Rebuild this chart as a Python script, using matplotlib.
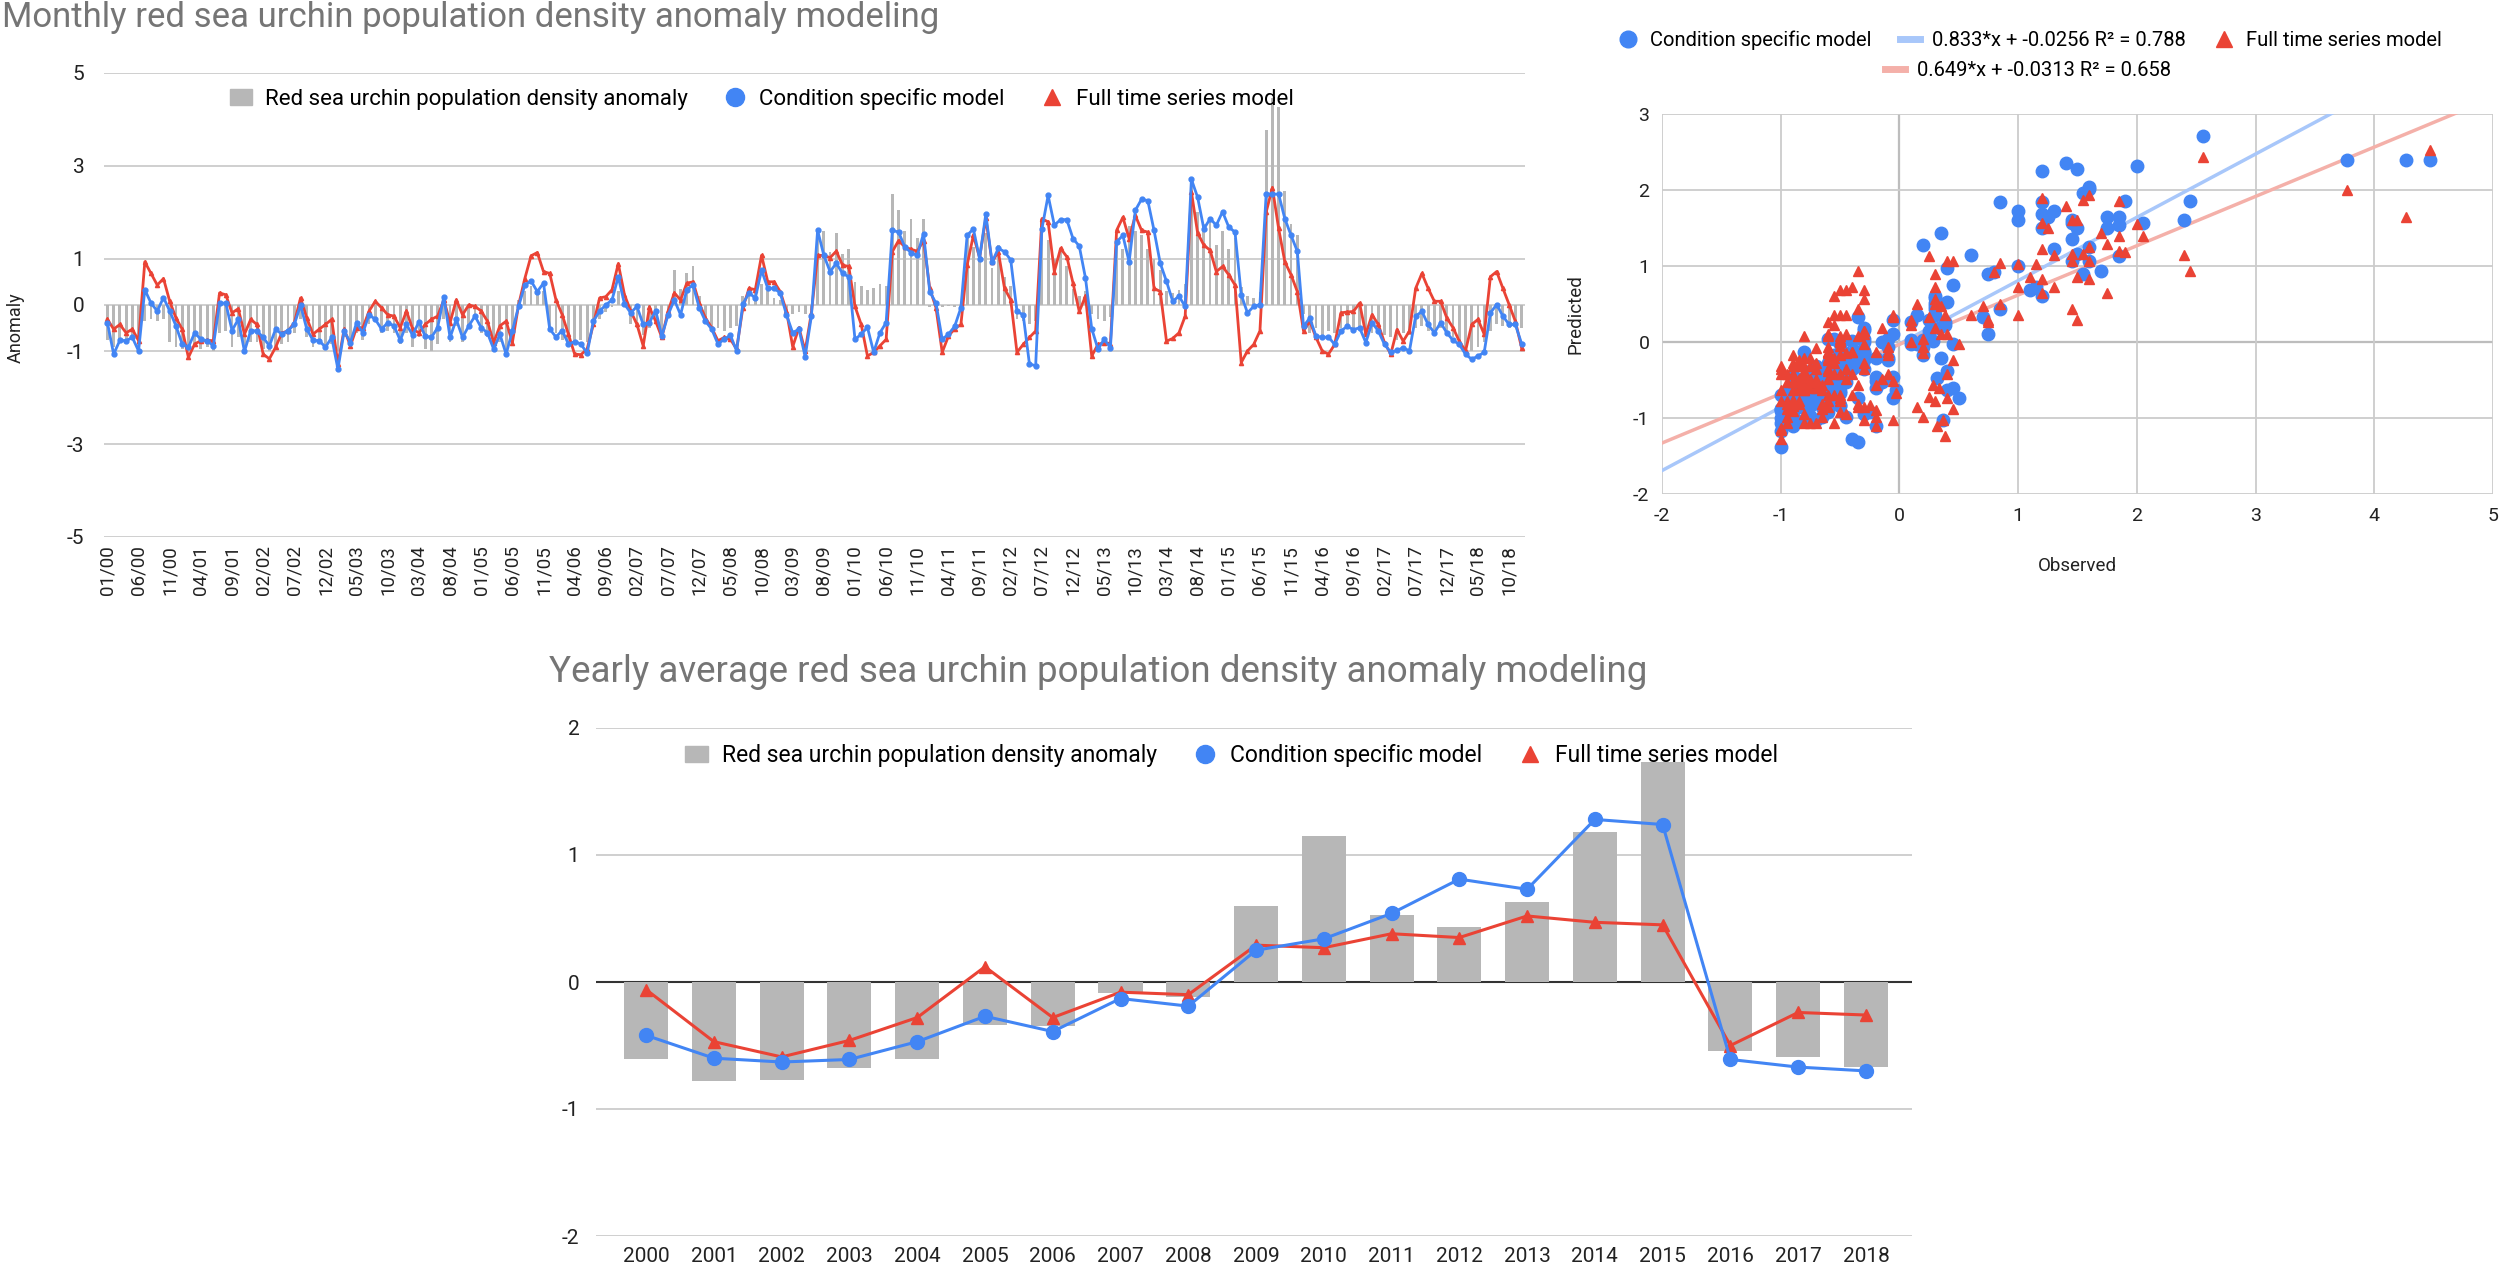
import matplotlib
matplotlib.use("Agg")
import matplotlib.pyplot as plt
from matplotlib.lines import Line2D
from matplotlib.patches import Patch
import numpy as np

plt.rcParams['font.family'] = ['Roboto', 'DejaVu Sans']
plt.rcParams['axes.unicode_minus'] = False

# ---- monthly data, 01/2000 .. 12/2018 ----
observed = [
    -0.75, -0.9, -0.8, -0.75, -0.7, -0.9, -0.35, -0.3, -0.35, -0.3, -0.8, -0.9,
    -0.95, -1.0, -0.9, -0.95, -0.9, -1.0, -0.6, -0.55, -0.9, -0.7, -1.0, -0.8,
    -0.8, -0.95, -1.0, -0.9, -0.85, -0.8, -0.6, -0.3, -0.7, -0.9, -0.85, -0.9,
    -0.85, -1.0, -0.7, -0.95, -0.6, -0.75, -0.4, -0.35, -0.6, -0.55, -0.6, -0.85,
    -0.6, -0.9, -0.7, -0.95, -1.0, -0.85, -0.3, -0.8, -0.45, -0.8, -0.5, -0.3,
    -0.6, -0.7, -0.95, -0.8, -1.0, -0.85, 0.1, 0.3, 0.4, 0.25, 0.3, -0.5,
    -0.6, -0.75, -0.8, -0.8, -0.75, -0.8, -0.4, -0.3, -0.15, -0.05, 0.3, 0.1,
    -0.4, -0.5, -0.65, -0.5, -0.3, -0.6, -0.2, 0.75, 0.35, 0.7, 0.85, 0.2,
    -0.3, -0.45, -0.5, -0.55, -0.5, -0.45, 0.2, 0.38, 0.25, 0.45, 0.3, 0.15,
    0.1, -0.1, -0.2, -0.15, -0.2, -0.1, 1.45, 1.6, 1.15, 1.55, 1.1, 1.2,
    0.5, 0.4, 0.32, 0.37, 0.45, 0.4, 2.4, 2.05, 1.6, 1.85, 1.45, 1.85,
    -0.05, -0.1, -0.05, -0.03, -0.05, -0.1, 1.5, 1.25, 1.0, 1.55, 0.8, 1.3,
    0.6, 0.4, -0.3, -0.35, -0.4, -0.35, 1.85, 1.4, 1.0, 1.2, 0.85, 0.35,
    0.2, 0.3, -0.2, -0.3, -0.35, -0.25, 1.45, 1.2, 1.7, 1.6, 1.5, 1.2,
    1.0, 0.75, 0.3, 0.25, 0.33, 0.45, 2.56, 2.0, 1.75, 1.9, 1.3, 1.6,
    1.2, 1.45, 0.38, 0.2, 0.15, 0.28, 3.77, 4.47, 4.27, 2.45, 1.75, 1.5,
    -0.2, -0.6, -0.5, -0.65, -0.55, -0.6, -0.5, -0.45, -0.6, -0.5, -0.65, -0.6,
    -0.55, -0.65, -0.7, -0.75, -0.6, -0.65, -0.5, -0.45, -0.55, -0.6, -0.5, -0.55,
    -0.7, -0.85, -0.95, -1.0, -0.9, -0.8, -0.55, -0.4, -0.45, -0.5, -0.45, -0.5,
]

condition_model = [
    -0.38, -1.06, -0.76, -0.77, -0.70, -0.99, 0.33, 0.04, -0.13, 0.16, -0.13, -0.45,
    -0.84, -0.91, -0.60, -0.74, -0.77, -0.88, 0.04, 0.04, -0.55, -0.31, -1.00, -0.55,
    -0.56, -0.70, -0.88, -0.52, -0.63, -0.55, -0.42, 0.00, -0.52, -0.76, -0.77, -0.91,
    -0.70, -1.38, -0.56, -0.81, -0.38, -0.60, -0.21, -0.31, -0.52, -0.38, -0.45, -0.76,
    -0.42, -0.65, -0.36, -0.67, -0.70, -0.49, 0.18, -0.70, -0.31, -0.70, -0.45, -0.24,
    -0.49, -0.60, -0.95, -0.63, -1.06, -0.56, -0.03, 0.43, 0.52, 0.29, 0.47, -0.52,
    -0.69, -0.55, -0.84, -0.79, -0.84, -1.04, -0.35, -0.13, 0.00, 0.11, 0.61, 0.02,
    -0.17, -0.03, -0.42, -0.38, -0.12, -0.67, -0.21, 0.11, -0.21, 0.33, 0.43, -0.06,
    -0.35, -0.52, -0.84, -0.74, -0.65, -0.99, 0.02, 0.26, 0.15, 0.75, 0.36, 0.36,
    0.26, -0.21, -0.60, -0.52, -1.11, -0.24, 1.61, 1.07, 0.72, 0.90, 0.68, 0.61,
    -0.74, -0.63, -0.48, -1.02, -0.60, -0.38, 1.61, 1.57, 1.25, 1.13, 1.07, 1.54,
    0.29, 0.04, -0.74, -0.63, -0.46, -0.06, 1.50, 1.64, 1.00, 1.96, 0.92, 1.22,
    1.15, 0.97, -0.14, -0.21, -1.27, -1.31, 1.64, 2.36, 1.72, 1.84, 1.84, 1.43,
    1.27, 0.58, -0.51, -0.95, -0.74, -0.92, 1.36, 1.50, 0.93, 2.04, 2.28, 2.25,
    1.61, 0.90, 0.51, 0.08, 0.19, -0.03, 2.71, 2.32, 1.64, 1.86, 1.72, 2.01,
    1.68, 1.57, 0.22, -0.17, -0.03, 0.01, 2.39, 2.39, 2.39, 1.86, 1.50, 1.16,
    -0.46, -0.28, -0.67, -0.70, -0.69, -0.85, -0.56, -0.46, -0.53, -0.49, -0.81, -0.38,
    -0.56, -0.85, -1.02, -0.98, -0.92, -0.99, -0.24, -0.14, -0.42, -0.60, -0.38, -0.60,
    -0.76, -0.85, -1.06, -1.17, -1.10, -1.02, -0.17, 0.01, -0.24, -0.42, -0.42, -0.83,
]

full_model = [
    -0.31, -0.52, -0.42, -0.60, -0.52, -0.77, 0.93, 0.68, 0.43, 0.57, 0.08, -0.28,
    -0.52, -1.13, -0.84, -0.77, -0.76, -0.77, 0.26, 0.22, -0.17, -0.08, -0.63, -0.31,
    -0.42, -1.06, -1.16, -0.91, -0.60, -0.56, -0.38, 0.15, -0.28, -0.63, -0.52, -0.42,
    -0.31, -1.27, -0.52, -0.88, -0.49, -0.49, -0.13, 0.08, -0.06, -0.21, -0.24, -0.49,
    -0.13, -0.52, -0.60, -0.42, -0.31, -0.24, 0.11, -0.38, 0.11, -0.21, 0.00, -0.03,
    -0.13, -0.35, -0.81, -0.45, -0.35, -0.81, 0.00, 0.57, 1.06, 1.13, 0.72, 0.68,
    0.11, -0.21, -0.63, -1.06, -1.07, -0.95, -0.42, 0.15, 0.18, 0.33, 0.89, 0.22,
    -0.13, -0.42, -0.88, -0.05, -0.35, -0.70, -0.13, 0.26, 0.11, 0.47, 0.50, 0.04,
    -0.28, -0.49, -0.77, -0.70, -0.74, -0.95, -0.06, 0.36, 0.33, 1.07, 0.50, 0.50,
    0.29, -0.13, -0.90, -0.49, -0.99, -0.17, 1.07, 1.07, 1.02, 1.16, 0.86, 0.83,
    -0.03, -0.42, -1.10, -1.02, -0.88, -0.74, 1.15, 1.39, 1.25, 1.20, 1.16, 1.39,
    0.36, -0.06, -1.02, -0.67, -0.51, -0.42, 0.86, 1.50, 1.02, 1.87, 0.92, 1.15,
    0.36, 0.11, -1.02, -0.85, -0.70, -0.56, 1.86, 1.79, 0.72, 1.22, 1.04, 0.47,
    -0.14, 0.19, -1.10, -0.85, -0.81, -0.83, 1.61, 1.89, 1.43, 1.93, 1.61, 1.57,
    0.36, 0.29, -0.78, -0.72, -0.60, -0.24, 2.44, 1.55, 1.29, 1.18, 0.72, 0.83,
    0.65, 0.43, -1.24, -0.99, -0.85, -0.56, 2.00, 2.53, 1.65, 0.93, 0.65, 0.29,
    -0.56, -0.35, -0.70, -0.99, -1.06, -0.85, -0.17, -0.15, -0.14, 0.04, -0.63, -0.21,
    -0.42, -0.81, -1.06, -0.53, -0.78, -0.56, 0.36, 0.68, 0.36, 0.08, 0.08, -0.28,
    -0.49, -0.78, -0.99, -0.42, -0.31, -0.63, 0.61, 0.72, 0.36, 0.01, -0.35, -0.92,
]

month_labels = [f"{m:02d}/{y:02d}" for y in range(0, 19) for m in range(1, 13)]

# ---- yearly averages ----
years = [str(y) for y in range(2000, 2019)]
yearly_observed = [-0.61, -0.78, -0.77, -0.68, -0.61, -0.34, -0.35, -0.09, -0.12, 0.60,
                   1.15, 0.53, 0.43, 0.63, 1.18, 1.73, -0.54, -0.59, -0.67]
yearly_condition = [-0.42, -0.60, -0.63, -0.61, -0.47, -0.27, -0.39, -0.13, -0.19, 0.25,
                    0.34, 0.54, 0.81, 0.73, 1.28, 1.24, -0.61, -0.67, -0.70]
yearly_full = [-0.06, -0.47, -0.59, -0.46, -0.28, 0.12, -0.28, -0.08, -0.10, 0.29,
               0.27, 0.38, 0.35, 0.52, 0.47, 0.45, -0.50, -0.24, -0.26]

# trendlines as given in the scatter legend
trend_condition = (0.833, -0.0256, 0.788)
trend_full = (0.649, -0.0313, 0.658)

BLUE = '#4285F4'
RED = '#EA4335'
BAR = '#b7b7b7'
GRID = '#cccccc'
TITLE = '#757575'
TEXT = '#222222'

W, H = 2500, 1270
fig = plt.figure(figsize=(W / 100, H / 100), dpi=100)


def box(left, top, right, bottom):
    return [left / W, 1 - bottom / H, (right - left) / W, (bottom - top) / H]


# ================= monthly chart =================
ax1 = fig.add_axes(box(104, 73, 1525, 537))
x = np.arange(len(observed))
ax1.bar(x, observed, width=0.45, color=BAR, zorder=2)
ax1.plot(x, condition_model, color=BLUE, lw=2.0, marker='o', ms=3.5, zorder=4)
ax1.plot(x, full_model, color=RED, lw=2.0, marker='^', ms=3, zorder=3)
ax1.set_xlim(-0.55, len(observed) - 0.45)
ax1.set_ylim(-5, 5)
ax1.set_yticks([5, 3, 1, 0, -1, -3, -5])
for v in [5, 3, 1, 0, -1, -3, -5]:
    ax1.axhline(v, color=GRID, lw=1.3, zorder=1)
ax1.set_xticks(x[::5])
ax1.set_xticklabels(month_labels[::5], rotation=90, fontsize=13.5, color=TEXT)
ax1.tick_params(axis='y', labelsize=15, colors=TEXT, length=0, pad=14)
ax1.tick_params(axis='x', length=0, pad=6)
for s in ax1.spines.values():
    s.set_visible(False)

h_bar = Patch(color=BAR)
h_blue = Line2D([], [], color=BLUE, marker='o', ls='none', ms=13)
h_red = Line2D([], [], color=RED, marker='^', ls='none', ms=12)
ax1.legend([h_bar, h_blue, h_red],
           ['Red sea urchin population density anomaly', 'Condition specific model',
            'Full time series model'],
           loc='center', bbox_to_anchor=(0.463, 0.944), ncol=3, frameon=False,
           fontsize=16, handlelength=1.0, handletextpad=0.6, columnspacing=1.6)

fig.text(2 / W, 1 - 18 / H, 'Monthly red sea urchin population density anomaly modeling',
         fontsize=25, color=TITLE, va='center', ha='left')
fig.text(16 / W, 1 - 328 / H, 'Anomaly', rotation=90, fontsize=13, color=TEXT,
         va='center', ha='center')

# ================= scatter =================
ax2 = fig.add_axes(box(1662, 114, 2493, 494))
ax2.set_xlim(-2, 5)
ax2.set_ylim(-2, 3)
ax2.set_xticks(range(-2, 6))
ax2.set_yticks(range(-2, 4))
ax2.grid(True, color=GRID, lw=1.3, zorder=0)
ax2.axhline(0, color='#333333', lw=1.5, zorder=1)
ax2.axvline(0, color='#333333', lw=1.5, zorder=1)
xs = np.array([-2, 5])
ax2.plot(xs, trend_condition[0] * xs + trend_condition[1], color='#a8c7fa', lw=2.5, zorder=2)
ax2.plot(xs, trend_full[0] * xs + trend_full[1], color='#f4b0a9', lw=2.5, zorder=2)
ax2.plot(observed, condition_model, 'o', color=BLUE, ms=9, zorder=3)
ax2.plot(observed, full_model, '^', color=RED, ms=7.5, zorder=4)
ax2.tick_params(labelsize=14, colors=TEXT, length=0, pad=9)
for s in ax2.spines.values():
    s.set_visible(False)

fig.text(2077 / W, 1 - 566 / H, 'Observed', fontsize=13.5, color=TEXT, ha='center', va='center')
fig.text(1575 / W, 1 - 314 / H, 'Predicted', fontsize=13.5, color=TEXT, rotation=90,
         ha='center', va='center')

h_bl = Line2D([], [], color=BLUE, marker='o', ls='none', ms=12)
h_rt = Line2D([], [], color=RED, marker='^', ls='none', ms=11)
h_tc = Line2D([], [], color='#a8c7fa', lw=5)
h_tf = Line2D([], [], color='#f4b0a9', lw=5)
lab_c = f"{trend_condition[0]}*x + {trend_condition[1]} R\u00b2 = {trend_condition[2]}"
lab_f = f"{trend_full[0]}*x + {trend_full[1]} R\u00b2 = {trend_full[2]}"
fig.legend([h_bl, h_tc, h_rt], ['Condition specific model', lab_c, 'Full time series model'],
           loc='center', bbox_to_anchor=(2030 / W, 1 - 40 / H), ncol=3, frameon=False,
           fontsize=14.5, handlelength=1.0, handletextpad=0.6, columnspacing=1.4)
fig.legend([h_tf], [lab_f], loc='center', bbox_to_anchor=(2028 / W, 1 - 71 / H),
           frameon=False, fontsize=14.5, handlelength=1.0, handletextpad=0.6)

# ================= yearly chart =================
ax3 = fig.add_axes(box(596, 728, 1912, 1236))
xi = np.arange(len(years))
ax3.bar(xi, yearly_observed, width=0.65, color=BAR, zorder=2)
ax3.plot(xi, yearly_condition, color=BLUE, lw=2.2, marker='o', ms=10, zorder=4)
ax3.plot(xi, yearly_full, color=RED, lw=2.2, marker='^', ms=9, zorder=3)
ax3.set_xlim(-0.74, len(years) - 1 + 0.68)
ax3.set_ylim(-2, 2)
ax3.set_yticks([-2, -1, 0, 1, 2])
for v in [-2, -1, 1, 2]:
    ax3.axhline(v, color=GRID, lw=1.3, zorder=1)
ax3.axhline(0, color='#333333', lw=1.5, zorder=1)
ax3.set_xticks(xi)
ax3.set_xticklabels(years, fontsize=15, color=TEXT)
ax3.tick_params(axis='y', labelsize=15, colors=TEXT, length=0, pad=12)
ax3.tick_params(axis='x', length=0, pad=8)
for s in ax3.spines.values():
    s.set_visible(False)

ax3.legend([h_bar, h_blue, h_red],
           ['Red sea urchin population density anomaly', 'Condition specific model',
            'Full time series model'],
           loc='center', bbox_to_anchor=(0.483, 0.945), ncol=3, frameon=False,
           fontsize=16.5, handlelength=1.0, handletextpad=0.6, columnspacing=1.6)

fig.text(549 / W, 1 - 672 / H,
         'Yearly average red sea urchin population density anomaly modeling',
         fontsize=26.5, color=TITLE, va='center', ha='left')

fig.savefig('out.png', dpi=100, facecolor='white')
